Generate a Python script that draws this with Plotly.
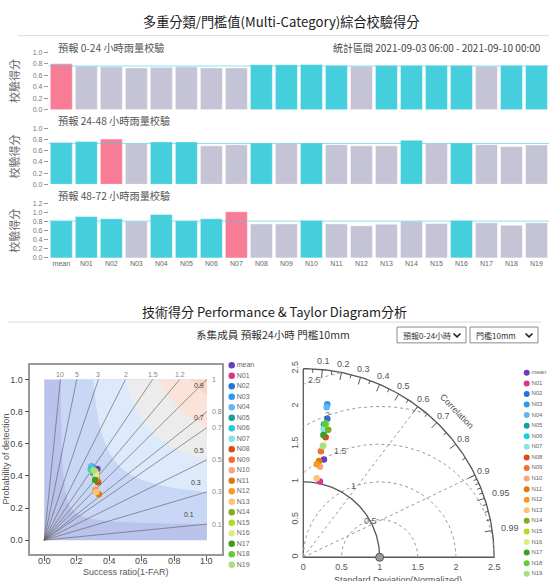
import numpy as np
import plotly.graph_objects as go

W, H = 549, 581

# ---------------- data ----------------
categories = ["mean", "N01", "N02", "N03", "N04", "N05", "N06", "N07", "N08", "N09",
              "N10", "N11", "N12", "N13", "N14", "N15", "N16", "N17", "N18", "N19"]

score_0_24 = [0.80, 0.76, 0.75, 0.73, 0.74, 0.75, 0.73, 0.73, 0.785, 0.785,
              0.79, 0.77, 0.76, 0.77, 0.77, 0.77, 0.77, 0.76, 0.77, 0.77]
score_24_48 = [0.75, 0.765, 0.81, 0.73, 0.76, 0.76, 0.69, 0.71, 0.74, 0.73,
               0.74, 0.71, 0.69, 0.69, 0.79, 0.73, 0.74, 0.71, 0.675, 0.705]
score_48_72 = [0.82, 0.915, 0.865, 0.81, 0.96, 0.82, 0.865, 1.02, 0.75, 0.75,
               0.825, 0.75, 0.71, 0.745, 0.81, 0.76, 0.825, 0.775, 0.72, 0.775]

panel_titles = ["預報 0-24 小時雨量校驗", "預報 24-48 小時雨量校驗", "預報 48-72 小時雨量校驗"]
ticks_a = [0.0, 0.2, 0.4, 0.6, 0.8, 1.0]
ticks_b = [0.0, 0.2, 0.4, 0.6, 0.8, 1.0, 1.2]

# performance diagram: success ratio / probability of detection
perf_sr = [0.327, 0.322, 0.298, 0.292, 0.288, 0.300, 0.286, 0.295, 0.331, 0.325,
           0.322, 0.336, 0.315, 0.320, 0.310, 0.315, 0.320, 0.313, 0.297, 0.305]
perf_pod = [0.443, 0.410, 0.450, 0.458, 0.455, 0.420, 0.440, 0.430, 0.360, 0.380,
            0.395, 0.285, 0.310, 0.300, 0.420, 0.425, 0.410, 0.375, 0.433, 0.435]

# taylor diagram: normalized std / correlation
taylor_std = [1.325, 1.028, 1.862, 2.054, 2.013, 1.780, 1.692, 1.720, 1.617, 1.425,
              1.220, 1.291, 1.244, 1.062, 1.721, 1.795, 1.508, 1.641, 1.788, 1.492]
taylor_corr = [0.204, 0.212, 0.169, 0.153, 0.152, 0.152, 0.163, 0.154, 0.181, 0.162,
               0.179, 0.159, 0.141, 0.165, 0.190, 0.167, 0.174, 0.160, 0.159, 0.171]

member_colors = ["#6a3dc6", "#d6368c", "#1f74e0", "#2a9bf2", "#63b6f6", "#17a0a0",
                 "#1ccfdc", "#84e6e2", "#dd4a18", "#f56d30", "#f8a67e", "#df7d0c",
                 "#f89b1c", "#fac478", "#7fae1f", "#b3dc29", "#dbee86", "#3c9e24",
                 "#62cc36", "#a6df86"]

bias_levels = [0.1, 0.3, 0.5, 0.7, 0.8, 1, 1.2, 1.5, 2, 3, 5, 10]
csi_levels = [0.1, 0.3, 0.5, 0.7, 0.9]
csi_colors = ["#b9c3eb", "#c9d7f6", "#dceafb", "#ececec", "#fbe3da", "#f8d7c9"]
corr_major = [0.1, 0.2, 0.3, 0.4, 0.5, 0.6, 0.7, 0.8, 0.9, 0.95, 0.99]
corr_minor = [0.05, 0.15, 0.25, 0.35, 0.45, 0.55, 0.65, 0.75, 0.85,
              0.91, 0.92, 0.93, 0.94, 0.96, 0.97, 0.98]
rms_levels = [0.5, 1, 1.5, 2, 2.5]
std_ticks = [0, 0.5, 1, 1.5, 2, 2.5]
perf_ticks = [0, 0.2, 0.4, 0.6, 0.8, 1.0]

CJK = "Noto Sans CJK TC, Noto Sans, sans-serif"
SANS = "Liberation Sans, Arial, sans-serif"


def px(p):
    return min(1.0, max(0.0, p / W))


def py(p):
    return min(1.0, max(0.0, 1 - p / H))


def note(text, x, y, size, color, family=CJK, xa="center", ya="middle", **kw):
    d = dict(text=text, x=px(x), y=py(y), xref="paper", yref="paper", xanchor=xa,
             yanchor=ya, showarrow=False, font=dict(size=size, color=color, family=family))
    d.update(kw)
    return d


# taylor axis geometry (page pixels)
TX0, TY0, TS = 303.3, 560.0, 76.35
TR0, TR1 = -0.03, 2.62


def tnote(text, x, y, size, color, **kw):
    return note(text, TX0 + x * TS, TY0 - y * TS, size, color, family=SANS, **kw)


fig = go.Figure()
annotations = []
shapes = []
layout_axes = {}

# ---------------- bar panels ----------------
bar_panels = [
    (score_0_24, 49, 107, 1.0, ticks_a, 44),
    (score_24_48, 126, 182.5, 1.0, ticks_a, 118),
    (score_48_72, 202, 257, 1.2, ticks_b, 194),
]
PINK, CYAN, GREY = "#f87c96", "#45cedb", "#c5c4d6"
for i, (vals, top, bot, ymax, tv, ttl_y) in enumerate(bar_panels):
    k = "" if i == 0 else str(i + 1)
    avg = float(np.mean(vals))
    vmax = max(vals)
    cols = [PINK if v == vmax else (CYAN if v > avg else GREY) for v in vals]
    fig.add_trace(go.Bar(x=categories, y=vals, marker=dict(color=cols,
                  line=dict(color="rgba(255,255,255,0.45)", width=1)),
                  xaxis="x" + k, yaxis="y" + k, showlegend=False, hoverinfo="skip"))
    layout_axes["xaxis" + k] = dict(domain=[px(48.8), 1.0], range=[-0.5, 19.5],
                                    type="category", anchor="y" + k,
                                    showticklabels=(i == 2), ticks="", showgrid=False,
                                    zeroline=False, showline=False,
                                    tickfont=dict(size=7, color="#666", family=SANS))
    layout_axes["yaxis" + k] = dict(domain=[py(bot), py(top)], range=[0, ymax],
                                    anchor="x" + k, tickvals=tv,
                                    ticktext=[f"{t:.1f}" for t in tv],
                                    ticks="outside", ticklen=4, tickcolor="#999",
                                    tickfont=dict(size=7, color="#777", family=SANS),
                                    showgrid=False, zeroline=False, showline=False)
    shapes.append(dict(type="line", xref="x" + k + " domain", x0=0, x1=1, yref="y" + k,
                       y0=avg, y1=avg, line=dict(color="rgba(70,205,222,0.6)", width=1),
                       layer="above"))
    annotations.append(note(panel_titles[i], 56, ttl_y, 10.2, "#555", xa="left"))
    annotations.append(note("校驗得分", 14, (top + bot) / 2, 11, "#666", textangle=-90))

annotations.append(note("統計區間 2021-09-03 06:00 - 2021-09-10 00:00", 543, 44, 10, "#444",
                        xa="right"))
annotations.append(note("多重分類/門檻值(Multi-Category)綜合校驗得分", 281, 18, 13.2, "#222"))
shapes.append(dict(type="line", xref="paper", yref="paper", x0=px(18), x1=px(549),
                   y0=py(32), y1=py(32), line=dict(color="#dcdcdc", width=1)))

# ---------------- section 2 header ----------------
annotations.append(note("技術得分 Performance &amp; Taylor Diagram分析", 274, 311, 13, "#222"))
shapes.append(dict(type="line", xref="paper", yref="paper", x0=px(8), x1=px(541),
                   y0=py(322), y1=py(322), line=dict(color="#dcdcdc", width=1)))
annotations.append(note("系集成員 預報24小時 門檻10mm", 273, 335, 10.6, "#333"))
for (x0, x1, label) in [(397, 466, "預報0-24小時"), (470, 538, "門檻10mm")]:
    shapes.append(dict(type="rect", xref="paper", yref="paper", x0=px(x0), x1=px(x1),
                       y0=py(343), y1=py(327), line=dict(color="#8a8a8a", width=1),
                       fillcolor="white"))
    cx = x1 - 9
    shapes.append(dict(type="path", xref="paper", yref="paper",
                       path=f"M {px(cx-3.5)},{py(333.5)} L {px(cx)},{py(337)} L {px(cx+3.5)},{py(333.5)}",
                       line=dict(color="#222", width=1.6)))
    annotations.append(note(label, x0 + 4, 335.5, 8, "#333", xa="left"))

# ---------------- performance diagram ----------------
fig.add_trace(go.Scatter(x=[0, 1, 1, 0, 0], y=[0, 0, 1, 1, 0], fill="toself",
                         fillcolor=csi_colors[0], line=dict(width=0), mode="lines",
                         xaxis="x4", yaxis="y4", showlegend=False, hoverinfo="skip"))
for c, col in zip(csi_levels, csi_colors[1:]):
    sr = np.linspace(c, 1, 120)
    pod = 1 / (1 / c + 1 - 1 / sr)
    xs = list(sr) + [1, c]
    ys = list(pod) + [1, 1]
    fig.add_trace(go.Scatter(x=xs, y=ys, fill="toself", fillcolor=col, line=dict(width=0),
                             mode="lines", xaxis="x4", yaxis="y4", showlegend=False,
                             hoverinfo="skip"))
bx, by = [], []
for b in bias_levels:
    bx += [0, min(1, 1 / b), None]
    by += [0, min(1, b), None]
    if b <= 1:
        annotations.append(dict(text=f"{b:g}", x=1.02, y=b, xref="x4", yref="y4",
                                xanchor="left", showarrow=False,
                                font=dict(size=7, color="#888", family=SANS)))
    else:
        annotations.append(dict(text=f"{b:g}", x=1 / b, y=1.028, xref="x4", yref="y4",
                                showarrow=False, font=dict(size=7, color="#888", family=SANS)))
fig.add_trace(go.Scatter(x=bx, y=by, mode="lines", line=dict(color="rgba(100,100,100,0.65)", width=1),
                         xaxis="x4", yaxis="y4", showlegend=False, hoverinfo="skip"))
csi_label_pos = [(0.89, 0.16), (0.93, 0.36), (0.95, 0.56), (0.95, 0.76), (0.95, 0.965)]
for c, (lx, ly) in zip(csi_levels, csi_label_pos):
    annotations.append(dict(text=f"{c:g}", x=lx, y=ly, xref="x4", yref="y4", showarrow=False,
                            font=dict(size=7, color="#444", family=SANS)))
fig.add_trace(go.Scatter(x=perf_sr, y=perf_pod, mode="markers",
                         marker=dict(color=member_colors, size=6.5),
                         xaxis="x4", yaxis="y4", showlegend=False, hoverinfo="skip"))
PX0, PY0, PS = 44.2, 542.7, 162.7
layout_axes["xaxis4"] = dict(domain=[px(PX0 - 0.085 * PS), px(PX0 + 1.09 * PS)],
                             range=[-0.085, 1.09], anchor="y4",
                             tickvals=perf_ticks, showticklabels=False,
                             ticks="outside", ticklen=5, tickcolor="#555",
                             showline=True, mirror=True, linecolor="#999", linewidth=1.5,
                             showgrid=False, zeroline=False)
layout_axes["yaxis4"] = dict(domain=[py(PY0 + 0.087 * PS), py(PY0 - 1.09 * PS)],
                             range=[-0.087, 1.09], anchor="x4",
                             tickvals=perf_ticks, ticktext=[f"{v:.1f}" for v in perf_ticks],
                             ticks="outside", ticklen=4, tickcolor="#555",
                             showline=True, mirror=True, linecolor="#999", linewidth=1.5,
                             showgrid=False, zeroline=False,
                             tickfont=dict(size=9, color="#444", family=SANS))
for v in perf_ticks:
    annotations.append(note(f"{v:.1f}", PX0 + v * PS, 563.5, 9, "#444", family=SANS))
annotations.append(note("Success ratio(1-FAR)", 126, 574.5, 9, "#555", family=SANS))
annotations.append(note("Probability of detection", 6, 461, 9, "#555", family=SANS,
                        textangle=-90))

# ---------------- taylor diagram ----------------
R = 2.5
th = np.linspace(0, np.pi / 2, 200)
ox = [0, 0, R] + list(R * np.cos(th))
oy = [R, 0, 0] + list(R * np.sin(th))
fig.add_trace(go.Scatter(x=ox, y=oy, mode="lines", line=dict(color="#555", width=1.3),
                         xaxis="x5", yaxis="y5", showlegend=False, hoverinfo="skip"))
for r in rms_levels:
    t = np.linspace(0, np.pi, 400)
    cxs = 1 + r * np.cos(t)
    cys = r * np.sin(t)
    mask = (cxs < 0) | (cxs ** 2 + cys ** 2 > R ** 2)
    cxs = np.where(mask, np.nan, cxs)
    cys = np.where(mask, np.nan, cys)
    fig.add_trace(go.Scatter(x=cxs, y=cys, mode="lines", connectgaps=False,
                             line=dict(color="#999", width=1, dash="dot"),
                             xaxis="x5", yaxis="y5", showlegend=False, hoverinfo="skip"))
    a = np.deg2rad(104 if r == 0.5 else 110)
    annotations.append(tnote(f"{r:g}", 1 + r * np.cos(a), r * np.sin(a), 9, "#666"))
rx, ry = [], []
for c in [0.6, 0.9]:
    rx += [0, R * c, None]
    ry += [0, R * np.sqrt(1 - c * c), None]
fig.add_trace(go.Scatter(x=rx, y=ry, mode="lines", line=dict(color="#999", width=1, dash="dot"),
                         xaxis="x5", yaxis="y5", showlegend=False, hoverinfo="skip"))
fig.add_trace(go.Scatter(x=np.cos(th), y=np.sin(th), mode="lines",
                         line=dict(color="#555", width=1.3),
                         xaxis="x5", yaxis="y5", showlegend=False, hoverinfo="skip"))
tx, ty = [], []
for c in corr_major:
    s = np.sqrt(1 - c * c)
    tx += [R * c, (R - 0.1) * c, None]
    ty += [R * s, (R - 0.1) * s, None]
    rl = 2.62 if len(f"{c:g}") <= 3 else 2.73
    annotations.append(tnote(f"{c:g}", rl * c, rl * s, 9, "#555"))
for c in corr_minor:
    s = np.sqrt(1 - c * c)
    tx += [R * c, (R - 0.05) * c, None]
    ty += [R * s, (R - 0.05) * s, None]
fig.add_trace(go.Scatter(x=tx, y=ty, mode="lines", line=dict(color="#555", width=1),
                         xaxis="x5", yaxis="y5", showlegend=False, hoverinfo="skip"))
ca = np.deg2rad(44)
annotations.append(tnote("Correlation", 2.79 * np.cos(ca), 2.79 * np.sin(ca), 9, "#555",
                         textangle=46))
fig.add_trace(go.Scatter(x=[1], y=[0], mode="markers",
                         marker=dict(color="#999", size=8, line=dict(color="#555", width=1)),
                         cliponaxis=False, xaxis="x5", yaxis="y5", showlegend=False,
                         hoverinfo="skip"))
tcorr = np.array(taylor_corr)
tstd = np.array(taylor_std)
fig.add_trace(go.Scatter(x=tstd * tcorr, y=tstd * np.sqrt(1 - tcorr ** 2), mode="markers",
                         marker=dict(color=member_colors, size=6.5),
                         xaxis="x5", yaxis="y5", showlegend=False, hoverinfo="skip"))
tdx = [px(TX0 + TR0 * TS), px(TX0 + TR1 * TS)]
tdy = [py(TY0 - TR0 * TS), py(TY0 - TR1 * TS)]
layout_axes["xaxis5"] = dict(domain=tdx, range=[TR0, TR1], anchor="y5",
                             tickvals=std_ticks, ticktext=[f"{v:g}" for v in std_ticks],
                             ticks="", showline=False, showgrid=False, zeroline=False,
                             tickfont=dict(size=9, color="#555", family=SANS))
layout_axes["yaxis5"] = dict(domain=tdy, range=[TR0, TR1], anchor="x5",
                             tickvals=std_ticks, ticktext=[f"{v:g}" for v in std_ticks],
                             tickangle=-90, ticks="", showline=False, showgrid=False,
                             zeroline=False, tickfont=dict(size=9, color="#555", family=SANS))
annotations.append(note("Standard Deviation(Normalized)", 398, 576, 9, "#555", family=SANS,
                        ya="top"))

# ---------------- manual legends ----------------
idx = list(range(len(categories)))
legends = [("x6", "y6", 228, 365.7, 567.7, 7, 6.5), ("x7", "y7", 523, 373.3, 576.7, 6, 6)]
for (xa, ya, left, top, bot, fs, ms) in legends:
    fig.add_trace(go.Scatter(x=[3.7] * len(idx), y=idx, mode="markers+text", text=categories,
                             textposition="middle right", cliponaxis=False,
                             textfont=dict(size=fs, color="#666", family=SANS),
                             marker=dict(color=member_colors, size=ms),
                             xaxis=xa, yaxis=ya, showlegend=False, hoverinfo="skip"))
    layout_axes["xaxis" + xa[1:]] = dict(domain=[px(left), px(left + 26)],
                                         range=[0, 26], visible=False, anchor=ya)
    layout_axes["yaxis" + ya[1:]] = dict(domain=[py(bot), py(top)], range=[19, 0],
                                         visible=False, anchor=xa)

fig.update_layout(width=W, height=H, margin=dict(l=0, r=0, t=0, b=0),
                  paper_bgcolor="white", plot_bgcolor="rgba(0,0,0,0)",
                  bargap=0.12, annotations=annotations, shapes=shapes, hovermode=False,
                  font=dict(family=CJK), **layout_axes)
fig.write_html("out.html", config={"displayModeBar": False},
               post_script="document.body.style.margin='0';document.body.style.overflow='hidden';")
